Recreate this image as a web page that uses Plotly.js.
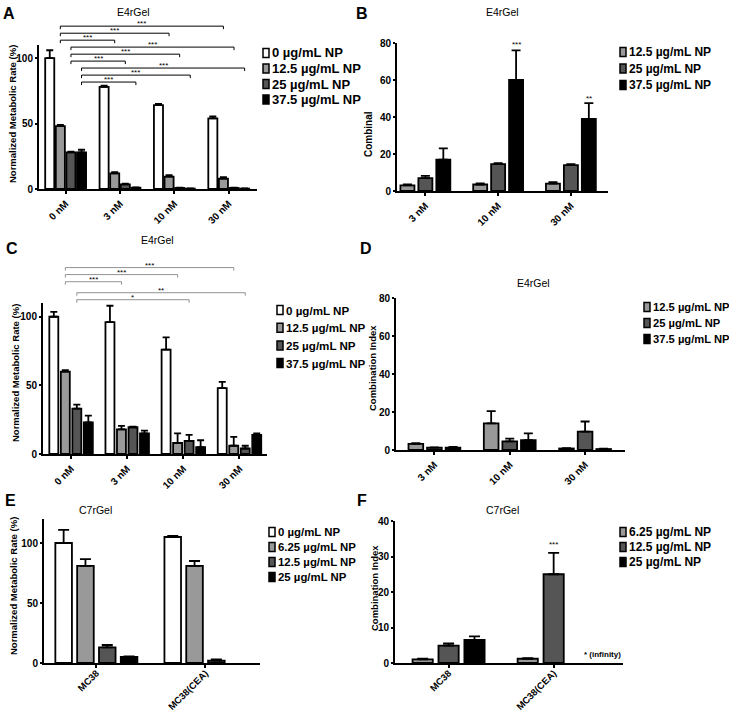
<!DOCTYPE html>
<html><head><meta charset="utf-8">
<script src="https://cdn.plot.ly/plotly-3.0.1.min.js"></script>
<style>html,body{margin:0;padding:0;background:#fff}</style>
</head><body><div id="chart" style="width:729px;height:714px"></div>
<script>
// ---------------- DATA ----------------
const catsA = ['0 nM', '3 nM', '10 nM', '30 nM'];
const seriesA = ['0 µg/mL NP', '12.5 µg/mL NP', '25 µg/mL NP', '37.5 µg/mL NP'];
const valsA = [[100, 78, 64, 54], [48, 12, 9.5, 8], [28, 3.5, 0.8, 0.8], [28, 1, 0.3, 0.3]];
const errA  = [[6, 1, 1, 1.5], [1, 0.8, 1, 1], [0.5, 0.6, 0.3, 0.3], [2, 0.3, 0.2, 0.2]];

const catsB = ['3 nM', '10 nM', '30 nM'];
const seriesB = ['12.5 µg/mL NP', '25 µg/mL NP', '37.5 µg/mL NP'];
const valsB = [[3, 3.5, 4], [7, 14.5, 14], [17, 60, 39]];
const errB  = [[0.5, 0.6, 0.8], [1.2, 0.6, 0.5], [6, 16, 8.5]];

const catsC = ['0 nM', '3 nM', '10 nM', '30 nM'];
const seriesC = ['0 µg/mL NP', '12.5 µg/mL NP', '25 µg/mL NP', '37.5 µg/mL NP'];
const valsC = [[100, 96, 76, 48], [60, 18, 8, 6], [33, 19.5, 9.5, 4], [23, 15, 5, 14]];
const errC  = [[3.5, 12, 9, 4.5], [1, 2.5, 7, 6.5], [3, 0.5, 4.5, 2], [5, 2, 5, 1]];

const catsD = ['3 nM', '10 nM', '30 nM'];
const seriesD = ['12.5 µg/mL NP', '25 µg/mL NP', '37.5 µg/mL NP'];
const valsD = [[3.2, 14, 0.8], [1.2, 4.5, 9.7], [1.3, 5.2, 0.5]];
const errD  = [[0.4, 6.5, 0.2], [0.2, 1.5, 5.3], [0.3, 3.6, 0.2]];

const catsE = ['MC38', 'MC38(CEA)'];
const seriesE = ['0 µg/mL NP', '6.25 µg/mL NP', '12.5 µg/mL NP', '25 µg/mL NP'];
const valsE = [[100, 105], [81, 81], [13, 2], [5, null]];
const errE  = [[11, 1], [5.5, 4], [2, 1], [0.5, null]];

const catsF = ['MC38', 'MC38(CEA)'];
const seriesF = ['6.25 µg/mL NP', '12.5 µg/mL NP', '25 µg/mL NP'];
const valsF = [[1.0, 1.2], [4.9, 25], [6.5, null]];
const errF  = [[0.2, 0.2], [0.6, 6], [1, null]];

// significance brackets: [series, target group, level (data units), label]  (all start at first group)
const bracketsA = [[1, 3, 124.4, '***'], [1, 2, 119, '***'], [1, 1, 113.7, '***'],
                   [2, 3, 108.4, '***'], [2, 2, 103, '***'], [2, 1, 97.7, '***'],
                   [3, 3, 92.4, '***'], [3, 2, 87, '***'], [3, 1, 81.7, '***']];
const bracketsC = [[1, 3, 135.8, '***'], [1, 2, 130.7, '***'], [1, 1, 125.5, '***'],
                   [2, 3, 117.5, '**'], [2, 2, 112.4, '*']];
// single-bar stars: [group, series, y, label]
const starsB = [[1, 2, 79, '***'], [2, 2, 50, '**']];
const starsF = [[1, 1, 33.5, '***']];

// ---------------- STYLE / LAYOUT ----------------
const W = 729, H = 714;
const fx = p => p / W, fy = p => 1 - p / H;
const FONT = 'Liberation Sans, Arial, sans-serif';
const C4 = ['#ffffff', '#999999', '#555555', '#000000'];
const C3 = ['#999999', '#555555', '#000000'];

const panels = [
  {cats: catsA, ser: seriesA, vals: valsA, errs: errA, col: C4, px: [39, 257], py: [45, 189], xr: [-0.49, 3.52], ymax: 110, tv: [0, 50, 100], gw: 0.78, ratio: 0.855, cap: 3.5,
   title: 'E4rGel', tpos: [133, 12], ytitle: 'Normalized Metabolic Rate (%)', ypos: [13, 114], letter: ['A', 9, 13], xfs: 10, xso: 0,
   leg: {x: 271, y: 53, step: 15.5, size: 13}, brackets: bracketsA, bcol: '#000', bw: 1},
  {cats: catsB, ser: seriesB, vals: valsB, errs: errB, col: C3, px: [397, 608], py: [43, 191], xr: [-0.39, 2.51], ymax: 80, tv: [0, 20, 40, 60, 80], gw: 0.74, ratio: 0.78, cap: 4.5,
   title: 'E4rGel', tpos: [502, 12], ytitle: 'Combinal', ypos: [368, 134], letter: ['B', 362, 13], xfs: 10, xso: 0,
   leg: {x: 628, y: 52, step: 16.5, size: 12}, stars: starsB},
  {cats: catsC, ser: seriesC, vals: valsC, errs: errC, col: C4, px: [43, 267], py: [303, 454], xr: [-0.5, 3.49], ymax: 110, tv: [0, 50, 100], gw: 0.82, ratio: 0.78, cap: 3.5,
   title: 'E4rGel', tpos: [157, 240], ytitle: 'Normalized Metabolic Rate (%)', ypos: [15, 373], letter: ['C', 12, 248], xfs: 10, xso: 0,
   leg: {x: 285, y: 310, step: 17.7, size: 11.6}, brackets: bracketsC, bcol: '#777', bw: 0.8},
  {cats: catsD, ser: seriesD, vals: valsD, errs: errD, col: C3, px: [396, 625], py: [298, 450], xr: [-0.51, 2.53], ymax: 80, tv: [0, 20, 40, 60, 80], gw: 0.74, ratio: 0.79, cap: 4.5,
   title: 'E4rGel', tpos: [533, 283], ytitle: 'Combination Index', ypos: [373, 368], letter: ['D', 366, 248], xfs: 10, xso: 0,
   leg: {x: 652, y: 307, step: 16, size: 11.2}},
  {cats: catsE, ser: seriesE, vals: valsE, errs: errE, col: C4, px: [44, 260], py: [519, 663], xr: [-0.48, 1.5], ymax: 120, tv: [0, 50, 100], gw: 0.8, ratio: 0.76, cap: 5.5,
   title: 'C7rGel', tpos: [95, 510], ytitle: 'Normalized Metabolic Rate (%)', ypos: [13, 586], letter: ['E', 10, 501], xfs: 9.5, xso: -4,
   leg: {x: 277, y: 532, step: 15, size: 11.4}},
  {cats: catsF, ser: seriesF, vals: valsF, errs: errF, col: C3, px: [395, 623], py: [521, 663], xr: [-0.51, 1.66], ymax: 40, tv: [0, 10, 20, 30, 40], gw: 0.74, ratio: 0.78, cap: 5.5,
   title: 'C7rGel', tpos: [502, 510], ytitle: 'Combination Index', ypos: [374, 588], letter: ['F', 362, 501], xfs: 9.5, xso: -4,
   leg: {x: 628, y: 532, step: 15, size: 12}, stars: starsF}
];

const traces = [];
const layout = {
  width: W, height: H, margin: {l: 0, r: 0, t: 0, b: 0},
  paper_bgcolor: '#fff', plot_bgcolor: 'rgba(0,0,0,0)',
  barmode: 'overlay', showlegend: false,
  font: {family: FONT, color: '#000'},
  shapes: [], annotations: []
};

panels.forEach((p, i) => {
  const sfx = i === 0 ? '' : String(i + 1);
  const xa = 'x' + sfx, ya = 'y' + sfx;
  const n = p.ser.length, slot = p.gw / n, bw = slot * p.ratio;
  const cx = (g, j) => g - p.gw / 2 + slot * (j + 0.5);
  const domH = p.py[1] - p.py[0];
  const yPix = v => p.py[1] - v / p.ymax * domH;   // data value -> page pixel (for things above the axis top)

  p.ser.forEach((name, j) => {
    traces.push({
      type: 'bar', name: name, x: p.cats, y: p.vals[j], xaxis: xa, yaxis: ya,
      width: bw, offset: -p.gw / 2 + slot * j + (slot - bw) / 2,
      marker: {color: p.col[j], line: {color: '#000', width: 1.8}},
      error_y: {type: 'data', symmetric: false, array: p.errs[j], arrayminus: p.errs[j].map(v => v === null ? null : 0),
                color: '#000', thickness: 1.8, width: p.cap},
      hoverinfo: 'skip'
    });
  });

  layout['xaxis' + sfx] = {
    domain: [fx(p.px[0]), fx(p.px[1])], anchor: ya, type: 'category', range: p.xr,
    showline: true, linewidth: 2, linecolor: '#000', ticks: 'outside', ticklen: 3, tickwidth: 2, tickcolor: '#000',
    ticklabelstandoff: p.xso,
    tickangle: -45, tickfont: {family: FONT, size: p.xfs, weight: 'bold'}, showgrid: false, zeroline: false, fixedrange: true
  };
  layout['yaxis' + sfx] = {
    domain: [fy(p.py[1]), fy(p.py[0])], anchor: xa, range: [0, p.ymax], tickvals: p.tv,
    showline: true, linewidth: 2, linecolor: '#000', ticks: 'outside', ticklen: 2, tickwidth: 2, tickcolor: '#000',
    tickfont: {family: FONT, size: 10, weight: 'bold'}, showgrid: false, zeroline: false, fixedrange: true
  };

  // y-axis title (placed as rotated text)
  layout.annotations.push({text: p.ytitle, xref: 'paper', yref: 'paper', x: fx(p.ypos[0]), y: fy(p.ypos[1]), textangle: -90,
    xanchor: 'center', yanchor: 'middle', showarrow: false, font: {family: FONT, size: i === 1 ? 10 : 9.5, weight: 'bold'}});

  // panel title and letter
  layout.annotations.push({text: p.title, xref: 'paper', yref: 'paper', x: fx(p.tpos[0]), y: fy(p.tpos[1]),
    xanchor: 'center', yanchor: 'middle', showarrow: false, font: {family: FONT, size: 10.5}});
  layout.annotations.push({text: p.letter[0], xref: 'paper', yref: 'paper', x: fx(p.letter[1]), y: fy(p.letter[2]),
    xanchor: 'center', yanchor: 'middle', showarrow: false, font: {family: FONT, size: 16, weight: 'bold'}});

  // manual legend
  p.ser.forEach((name, j) => {
    const ry = p.leg.y + j * p.leg.step;
    layout.shapes.push({type: 'rect', xref: 'paper', yref: 'paper',
      x0: fx(p.leg.x - 8), x1: fx(p.leg.x - 2), y0: fy(ry + 4.5), y1: fy(ry - 4.5),
      fillcolor: p.col[j], line: {color: '#000', width: 1.5}});
    layout.annotations.push({text: name, xref: 'paper', yref: 'paper', x: fx(p.leg.x - 1), y: fy(ry),
      xanchor: 'left', yanchor: 'middle', showarrow: false, font: {family: FONT, size: p.leg.size, weight: 'bold'}});
  });

  // brackets
  (p.brackets || []).forEach(b => {
    const [s, tg, lvl, lab] = b;
    const x1 = cx(0, s), x2 = cx(tg, s), yd = lvl / p.ymax, hook = 3 / domH;
    const yr = ya + ' domain';
    const ln = {color: p.bcol, width: p.bw};
    layout.shapes.push({type: 'line', xref: xa, yref: yr, x0: x1, x1: x2, y0: yd, y1: yd, line: ln});
    layout.shapes.push({type: 'line', xref: xa, yref: yr, x0: x1, x1: x1, y0: yd, y1: yd - hook, line: ln});
    layout.shapes.push({type: 'line', xref: xa, yref: yr, x0: x2, x1: x2, y0: yd, y1: yd - hook, line: ln});
    layout.annotations.push({text: lab, xref: xa, yref: 'paper', x: (x1 + x2) / 2, y: fy(yPix(lvl)), xanchor: 'center', yanchor: 'bottom',
      yshift: -4, showarrow: false, font: {family: FONT, size: 8}});
  });

  (p.stars || []).forEach(st => {
    const [g, j, yv, lab] = st;
    layout.annotations.push({text: lab, xref: xa, yref: 'paper', x: cx(g, j), y: fy(yPix(yv)), xanchor: 'center', yanchor: 'middle',
      showarrow: false, font: {family: FONT, size: 8}});
  });
});

// extra text
layout.annotations.push({text: '* (infinity)', xref: 'x6 domain', yref: 'y6', x: 1.0, y: 2.5, xanchor: 'right', yanchor: 'middle',
  showarrow: false, font: {family: FONT, size: 8, weight: 'bold'}});

Plotly.newPlot('chart', traces, layout, {displayModeBar: false, staticPlot: true});
</script>
</body></html>
